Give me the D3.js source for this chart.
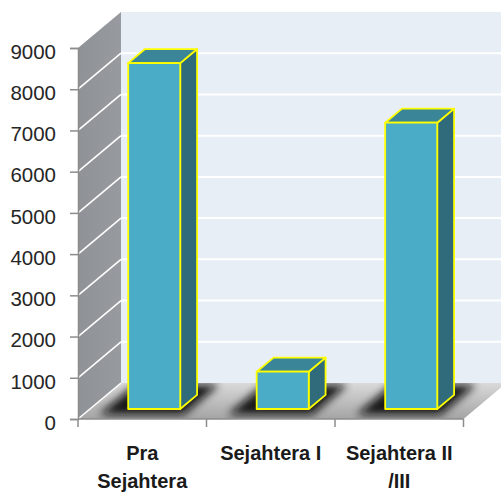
<!DOCTYPE html>
<html>
<head>
<meta charset="utf-8">
<script src="https://cdn.jsdelivr.net/npm/d3@7"></script>
<style>
  html, body { margin: 0; padding: 0; background: #ffffff; }
  svg { display: block; }
</style>
</head>
<body>
<svg id="chart" width="501" height="493"></svg>
<script>
// Data
const categories = ["Pra Sejahtera", "Sejahtera I", "Sejahtera II /III"];
const values = [8390, 905, 6945];
const yTicks = [0, 1000, 2000, 3000, 4000, 5000, 6000, 7000, 8000, 9000];

const svg = d3.select("#chart");

// Front plane of the 3D box
const x = d3.scaleBand().domain(categories).range([78, 463.5]).paddingInner(0).paddingOuter(0);
const y = d3.scaleLinear().domain([0, 9000]).range([419, 48]);

// Full depth of the box (oblique projection offset)
const DX = 43, DY = -36;
const proj = (px, py, d) => [px + d * DX, py + d * DY];

// Bar placement inside the depth and the band
const d0 = 0.278, d1 = 0.67;
const barFrac = 0.405;

const defs = svg.append("defs");
const floorGrad = defs.append("linearGradient").attr("id", "floorGrad")
  .attr("x1", 0).attr("y1", 0).attr("x2", 0).attr("y2", 1);
floorGrad.append("stop").attr("offset", "0%").attr("stop-color", "#dadada");
floorGrad.append("stop").attr("offset", "70%").attr("stop-color", "#b4b4b4");
floorGrad.append("stop").attr("offset", "100%").attr("stop-color", "#a4a4a4");

const sideGrad = defs.append("linearGradient").attr("id", "sideGrad")
  .attr("x1", 0).attr("y1", 0).attr("x2", 1).attr("y2", 0);
sideGrad.append("stop").attr("offset", "0%").attr("stop-color", "#8f9297");
sideGrad.append("stop").attr("offset", "100%").attr("stop-color", "#979a9f");

defs.append("filter").attr("id", "shadowBlur")
  .attr("x", "-50%").attr("y", "-50%").attr("width", "200%").attr("height", "200%")
  .append("feGaussianBlur").attr("stdDeviation", 4.5);

const x0 = x.range()[0], x1 = x.range()[1];
const yBase = y(0), yTop = y(9000);

const poly = pts => pts.map(p => p.join(",")).join(" ");

// Back wall
const backPts = [proj(x0, yTop, 1), proj(x1, yTop, 1), proj(x1, yBase, 1), proj(x0, yBase, 1)];
svg.append("polygon").attr("points", poly(backPts)).attr("fill", "#e7eef6");

// Back wall gridlines
svg.append("g").selectAll("line")
  .data(yTicks.filter(t => t > 0 && t < 9000))
  .join("line")
  .attr("x1", d => proj(x0, y(d), 1)[0])
  .attr("y1", d => proj(x0, y(d), 1)[1])
  .attr("x2", d => proj(x1, y(d), 1)[0])
  .attr("y2", d => proj(x1, y(d), 1)[1])
  .attr("stroke", "#ffffff").attr("stroke-width", 2);

// Side wall
const sidePts = [[x0, yTop], proj(x0, yTop, 1), proj(x0, yBase, 1), [x0, yBase]];
svg.append("polygon").attr("points", poly(sidePts)).attr("fill", "url(#sideGrad)");

// Floor
const floorPts = [[x0, yBase], [x1, yBase], proj(x1, yBase, 1), proj(x0, yBase, 1)];
defs.append("clipPath").attr("id", "floorClip")
  .append("polygon").attr("points", poly(floorPts));
svg.append("polygon").attr("points", poly(floorPts)).attr("fill", "url(#floorGrad)");

// Side wall gridlines (including the floor edge)
svg.append("g").selectAll("line")
  .data(yTicks.filter(t => t < 9000))
  .join("line")
  .attr("x1", x0).attr("y1", d => y(d))
  .attr("x2", d => proj(x0, y(d), 1)[0])
  .attr("y2", d => proj(x0, y(d), 1)[1])
  .attr("stroke", "#ffffff").attr("stroke-width", 1.6);

// Bar geometry
const bw = x.bandwidth() * barFrac;
const barLeft = c => x(c) + (x.bandwidth() - bw) / 2;

// Soft shadows on the floor
const shadowG = svg.append("g").attr("clip-path", "url(#floorClip)");
categories.forEach(c => {
  const l = barLeft(c) - 22, r = barLeft(c) + bw + 10;
  const pts = [proj(l, yBase, 0.12), proj(r, yBase, 0.12), proj(r, yBase, 0.95), proj(l, yBase, 0.95)];
  shadowG.append("polygon").attr("points", poly(pts))
    .attr("fill", "#0a0a0a").attr("opacity", 0.95)
    .attr("filter", "url(#shadowBlur)");
});

// Bars
const barG = svg.append("g");
categories.forEach((c, i) => {
  const l = barLeft(c), r = l + bw;
  const top = y(values[i]);
  const g = barG.append("g")
    .attr("stroke", "#ffff00").attr("stroke-width", 1.8).attr("stroke-linejoin", "round");
  // side face
  g.append("polygon").attr("points", poly([
    proj(r, top, d0), proj(r, top, d1), proj(r, yBase, d1), proj(r, yBase, d0)
  ])).attr("fill", "#2f6b7a");
  // top face
  g.append("polygon").attr("points", poly([
    proj(l, top, d0), proj(l, top, d1), proj(r, top, d1), proj(r, top, d0)
  ])).attr("fill", "#3a8597");
  // front face
  g.append("polygon").attr("points", poly([
    proj(l, top, d0), proj(r, top, d0), proj(r, yBase, d0), proj(l, yBase, d0)
  ])).attr("fill", "#4aacc6");
});

// Y axis
const yAxis = svg.append("g").attr("transform", `translate(${x0},0)`)
  .call(d3.axisLeft(y).tickValues(yTicks).tickFormat(d3.format("d")).tickSize(8).tickPadding(14));
yAxis.select(".domain").attr("stroke", "#8c8c8c").attr("stroke-width", 1.5);
yAxis.selectAll(".tick line").attr("stroke", "#8c8c8c").attr("stroke-width", 1.5);
yAxis.selectAll(".tick text")
  .attr("font-family", "'Liberation Sans', Arial, sans-serif")
  .attr("font-size", 20.5).attr("fill", "#262626").attr("dy", "0.5em");

// X axis line and boundary ticks
const bounds = categories.map(c => x(c)).concat([x1]);
const xAxisG = svg.append("g");
xAxisG.append("line").attr("x1", x0).attr("x2", x1).attr("y1", yBase).attr("y2", yBase)
  .attr("stroke", "#8c8c8c").attr("stroke-width", 1.5);
xAxisG.selectAll("line.tick").data(bounds).join("line").attr("class", "tick")
  .attr("x1", d => d).attr("x2", d => d).attr("y1", yBase).attr("y2", yBase + 8)
  .attr("stroke", "#8c8c8c").attr("stroke-width", 1.5);

// Category labels, word-wrapped to the band width
const labelFont = "bold 20px 'Liberation Sans', Arial, sans-serif";
const ctx = document.createElement("canvas").getContext("2d");
ctx.font = labelFont;
function wrap(text, maxW) {
  const words = text.split(" ");
  const lines = [];
  let cur = "";
  words.forEach(w => {
    const t = cur ? cur + " " + w : w;
    if (cur && ctx.measureText(t).width > maxW) { lines.push(cur); cur = w; }
    else cur = t;
  });
  if (cur) lines.push(cur);
  return lines;
}
const labels = svg.append("g")
  .attr("font-family", "'Liberation Sans', Arial, sans-serif")
  .attr("font-weight", "bold").attr("font-size", 20)
  .attr("fill", "#1a1a1a").attr("text-anchor", "middle");
categories.forEach(c => {
  const lines = wrap(c, x.bandwidth() - 10);
  const t = labels.append("text").attr("x", x(c) + x.bandwidth() / 2).attr("y", 460);
  lines.forEach((ln, k) => {
    t.append("tspan").attr("x", x(c) + x.bandwidth() / 2).attr("dy", k === 0 ? 0 : 28).text(ln);
  });
});
</script>
</body>
</html>
